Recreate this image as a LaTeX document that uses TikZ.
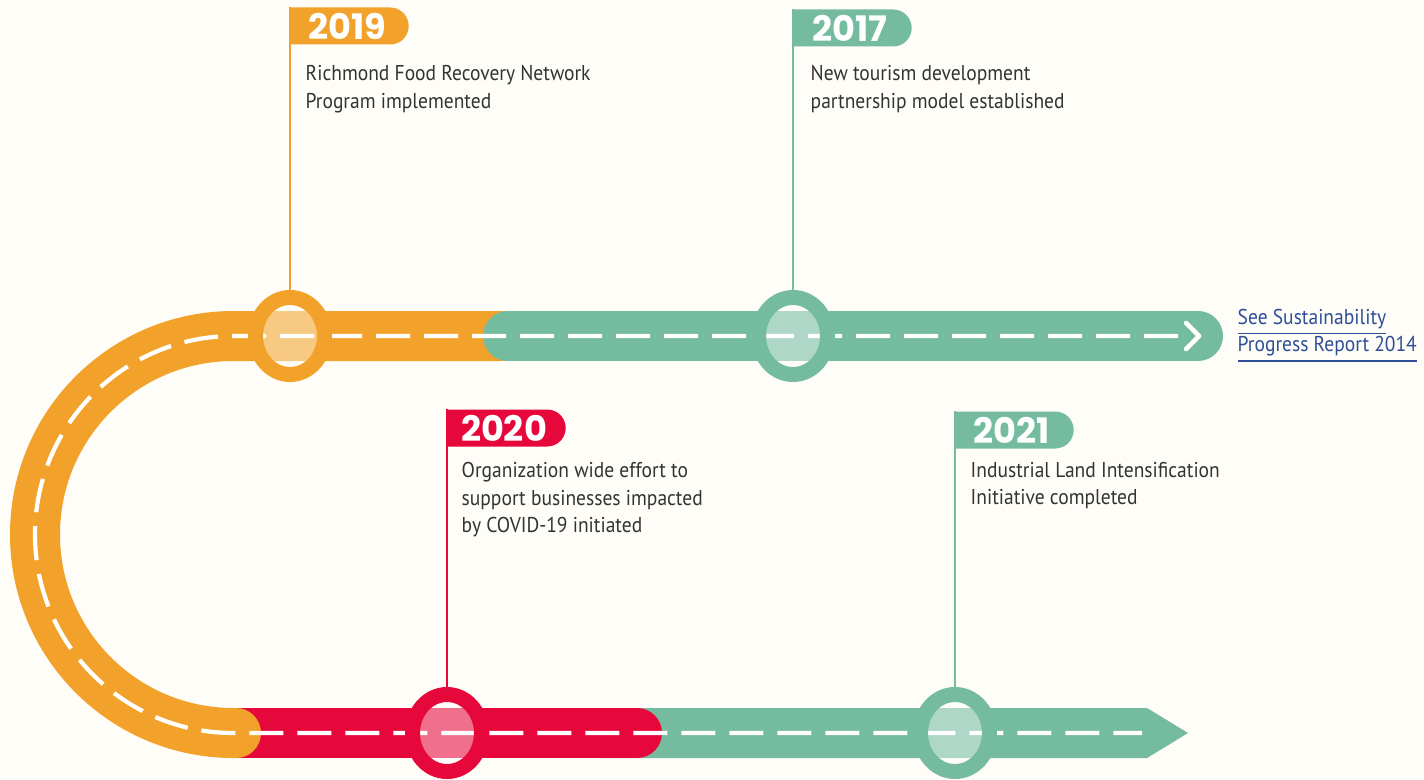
\documentclass[tikz,border=0pt]{standalone}
\usepackage{fontspec}
\setmainfont{PT Sans}[FakeStretch=0.91]
\newfontfamily\yearfont{Poppins}
\usetikzlibrary{arrows.meta, positioning, calc, shapes.geometric, shapes.misc}
\definecolor{cor}{HTML}{F2A22B}
\definecolor{cte}{HTML}{74BB9F}
\definecolor{cre}{HTML}{E6083A}
\definecolor{txt}{HTML}{333333}
\definecolor{linkcolor}{HTML}{2E4F98}
\definecolor{bg}{HTML}{FEFDF7}

\begin{document}
\begin{tikzpicture}[
    every node/.style={font=\fontsize{6.1}{7.7}\selectfont},
    band/.style={line width=0.5cm, line cap=round},
    ring/.style={ellipse, draw=#1, line width=0.15cm, fill=white, fill opacity=0.42,
        minimum width=0.69cm, minimum height=0.77cm, inner sep=0pt},
    flag/.style={rounded rectangle, rounded rectangle left arc=none, fill=#1, text=white,
        anchor=west, minimum height=0.37cm, minimum width=1.18cm, inner sep=0pt,
        font=\yearfont\bfseries\fontsize{10}{10}\selectfont},
    pole/.style={draw=#1, line width=0.7pt},
    desc/.style={anchor=north west, align=left, inner sep=0pt, text=txt},
]
\fill[bg] (0,0) rectangle (14.24,7.79);
\useasboundingbox (0,0) rectangle (14.24,7.79);
\def\rad{1.985}

% ---------------- road
\fill[cte] (6.00,0.71) -- (11.47,0.71) -- (11.88,0.46) -- (11.47,0.21) -- (6.00,0.21) -- cycle;
\draw[band, cre] (2.40,0.46) -- (6.37,0.46);
\draw[band, cor] (5.00,4.43) -- (2.335,4.43) arc[start angle=90, end angle=270, radius=\rad] -- (2.36,0.46);
\draw[band, cte] (5.08,4.43) -- (11.98,4.43);
\draw[white, line width=1.2pt, dash pattern=on 0.34cm off 0.14cm]
    (11.78,4.43) -- (2.335,4.43) arc[start angle=90, end angle=270, radius=\rad] -- (11.42,0.46);
\draw[white, line width=1.3pt, line cap=round, line join=round]
    (11.86,4.56) -- (11.99,4.43) -- (11.86,4.30);

% ---------------- milestones
\node[ring=cor] (c2019) at (2.90,4.43) {};
\node[ring=cte] (c2017) at (7.93,4.43) {};
\node[ring=cre] (c2020) at (4.47,0.46) {};
\node[ring=cte] (c2021) at (9.55,0.46) {};

\node[flag=cor] (f2019) at (2.90,7.53) {2019\hspace{0.8mm}};
\node[flag=cte] (f2017) at (7.93,7.51) {2017\hspace{0.8mm}};
\node[flag=cre] (f2020) at (4.47,3.51) {2020\hspace{0.8mm}};
\node[flag=cte] (f2021) at (9.55,3.49) {2021\hspace{0.8mm}};

\foreach \y/\c in {2019/cor, 2017/cte, 2020/cre, 2021/cte}{
    \draw[pole=\c] (c\y.north) -- (c\y.north |- f\y.north);
}

\node[desc] (t2019) at (3.05,7.14) {Richmond Food Recovery Network\\ Program implemented};
\node[desc] (t2017) at (8.10,7.14) {New tourism development\\ partnership model established};
\node[desc] (t2020) at (4.61,3.17) {Organization wide effort to\\ support businesses impacted\\ by COVID-19 initiated};
\node[desc] (t2021) at (9.70,3.17) {Industrial Land Intensification\\ Initiative completed};

% ---------------- link
\node[anchor=west, align=left, inner sep=0pt, text=linkcolor] (link) at (12.37,4.43)
    {\underline{See Sustainability}\\ \underline{Progress Report 2014}};

\end{tikzpicture}
\end{document}
